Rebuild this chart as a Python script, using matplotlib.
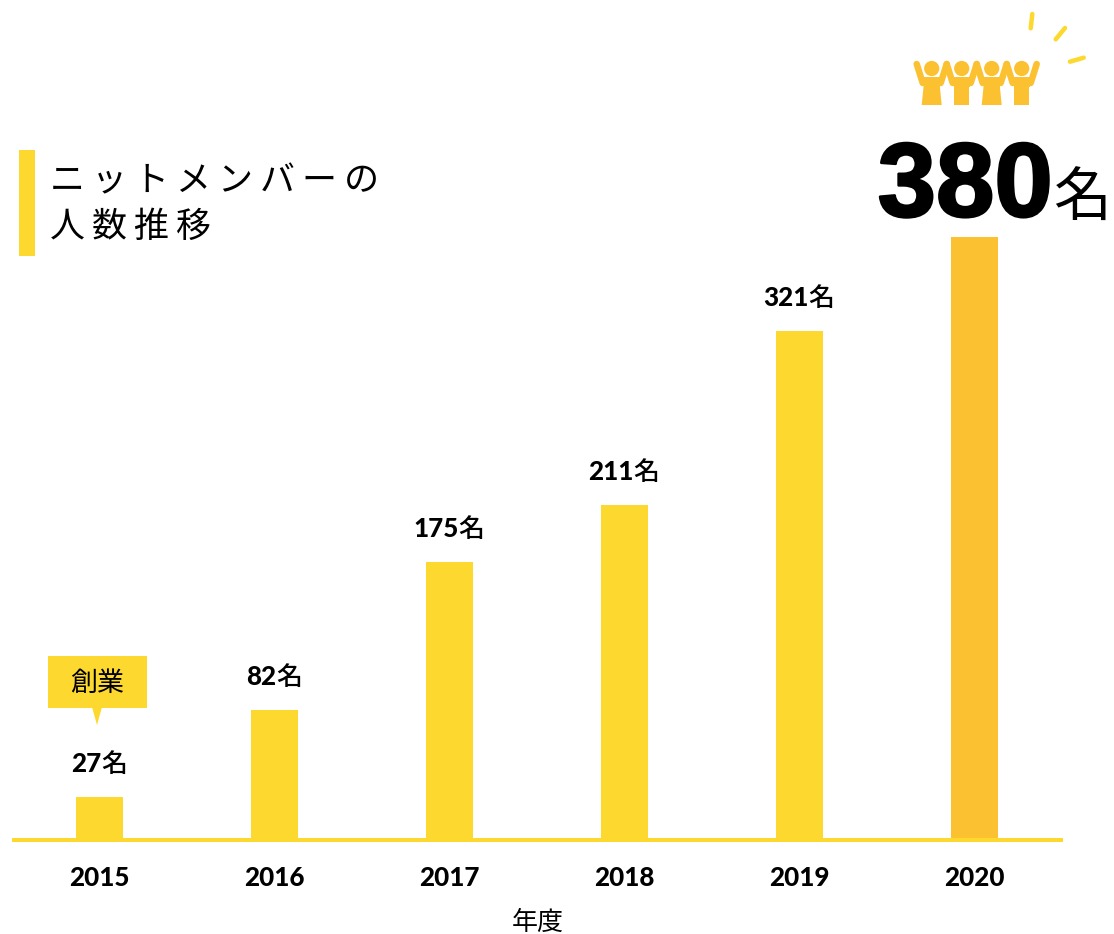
import matplotlib
matplotlib.use('Agg')
import matplotlib.pyplot as plt
import matplotlib.patheffects as pe
from matplotlib.patches import Rectangle, Polygon, Circle
from matplotlib.offsetbox import TextArea, HPacker, AnnotationBbox

years = ['2015', '2016', '2017', '2018', '2019', '2020']
members = [27, 82, 175, 211, 321, 380]
unit = '名'
title_lines = ['ニットメンバーの', '人数推移']
xlabel = '年度'
callout = '創業'

YELLOW = '#FDD92F'
ORANGE = '#FBC131'
JP = 'Noto Sans CJK JP'
PX = 0.72  # points per pixel at dpi 100

fig = plt.figure(figsize=(11.14, 9.34), dpi=100, facecolor='white')
ax = fig.add_axes([12 / 1114, 94 / 934, 1051 / 1114, 840 / 934])
ax.patch.set_alpha(0)

colors = [YELLOW] * 5 + [ORANGE]
ax.bar(range(len(years)), members, width=0.272, color=colors, zorder=2)
ax.set_xlim(-0.5, 5.505)
ax.set_ylim(0, 529.6)

for side in ['top', 'left', 'right']:
    ax.spines[side].set_visible(False)
ax.spines['bottom'].set_color(YELLOW)
ax.spines['bottom'].set_linewidth(4 * PX)
ax.spines['bottom'].set_capstyle('butt')
ax.spines['bottom'].set_zorder(3)
ax.set_yticks([])
ax.set_xticks(range(len(years)))
ax.set_xticklabels(years, family='Lato', fontweight='black', fontsize=26 * PX, color='black')
ax.tick_params(axis='x', length=0, pad=25.5 * PX)
ax.set_xlabel(xlabel, family=JP, fontsize=26 * PX, color='black', labelpad=19 * PX)


def value_label(x, y, value, num_px, unit_px, dx=0, dy=19, digit_font='Lato', digit_weight='black',
                unit_weight='medium', align=0.5, stroke=0):
    num = TextArea(str(value), textprops=dict(family=digit_font, fontweight=digit_weight,
                                              fontsize=num_px * PX, color='black'))
    if stroke:
        num._text.set_path_effects([pe.withStroke(linewidth=stroke * PX, foreground='black')])
    suffix = TextArea(unit, textprops=dict(family=JP, fontweight=unit_weight,
                                           fontsize=unit_px * PX, color='black'))
    box = HPacker(children=[num, suffix], align='baseline', pad=0, sep=0)
    ab = AnnotationBbox(box, (x, y), xybox=(dx * PX, dy * PX), xycoords='data',
                        boxcoords='offset points', box_alignment=(align, 0),
                        frameon=False, pad=0, annotation_clip=False)
    ax.add_artist(ab)


for i, v in enumerate(members[:-1]):
    value_label(i, v, v, 26, 26, dx=-0.5)
value_label(5, members[5], members[5], 105, 58, dx=-97, dy=-1, digit_font='Liberation Sans',
            digit_weight='bold', unit_weight='normal', align=0, stroke=2.5)

# overlay in image pixels for the decorations
ov = fig.add_axes([0, 0, 1, 1], zorder=5)
ov.set_xlim(0, 1114)
ov.set_ylim(934, 0)
ov.axis('off')

ov.add_patch(Rectangle((19, 150), 16, 106, color=YELLOW, lw=0))
thin = '\u2009'
ov.text(50, 181, thin.join(title_lines[0]), family=[JP, 'DejaVu Sans'], fontsize=35 * PX,
        va='center', ha='left', color='black')
ov.text(50, 227, thin.join(title_lines[1]), family=[JP, 'DejaVu Sans'], fontsize=35 * PX,
        va='center', ha='left', color='black')

# callout over the 2015 bar
ov.add_patch(Rectangle((48, 656), 99, 52, color=YELLOW, lw=0))
ov.add_patch(Polygon([(92, 707), (102, 707), (97, 725)], closed=True, color=YELLOW, lw=0))
ov.text(97, 683, callout, family=JP, fontsize=27 * PX, ha='center', va='center', color='black')

# cheering people icon
head_x = [931.7, 961.7, 991.7, 1021.7]
for k, hx in enumerate(head_x):
    ov.add_patch(Circle((hx, 68.5), 7.6, color=ORANGE, lw=0))
    ov.add_patch(Rectangle((hx - 8, 77), 16, 10, color=ORANGE, lw=0))
    if k % 2 == 0:
        ov.add_patch(Polygon([(hx - 8, 85), (hx + 8, 85), (hx + 10, 105), (hx - 10, 105)],
                             closed=True, color=ORANGE, lw=0))
    else:
        ov.add_patch(Rectangle((hx - 7.5, 85), 15, 20, color=ORANGE, lw=0))
    for side in (-1, 1):
        ov.plot([hx + side * 15, hx + side * 9], [64, 83], color=ORANGE, lw=6.5 * PX,
                solid_capstyle='round')

rays = [((1032.3, 14), (1030.7, 28.3)), ((1065, 28), (1055.7, 39.3)), ((1083.7, 57.7), (1070, 61.7))]
for (x0, y0), (x1, y1) in rays:
    ov.plot([x0, x1], [y0, y1], color=YELLOW, lw=4.5 * PX, solid_capstyle='round')

fig.savefig('out.png', dpi=100)
